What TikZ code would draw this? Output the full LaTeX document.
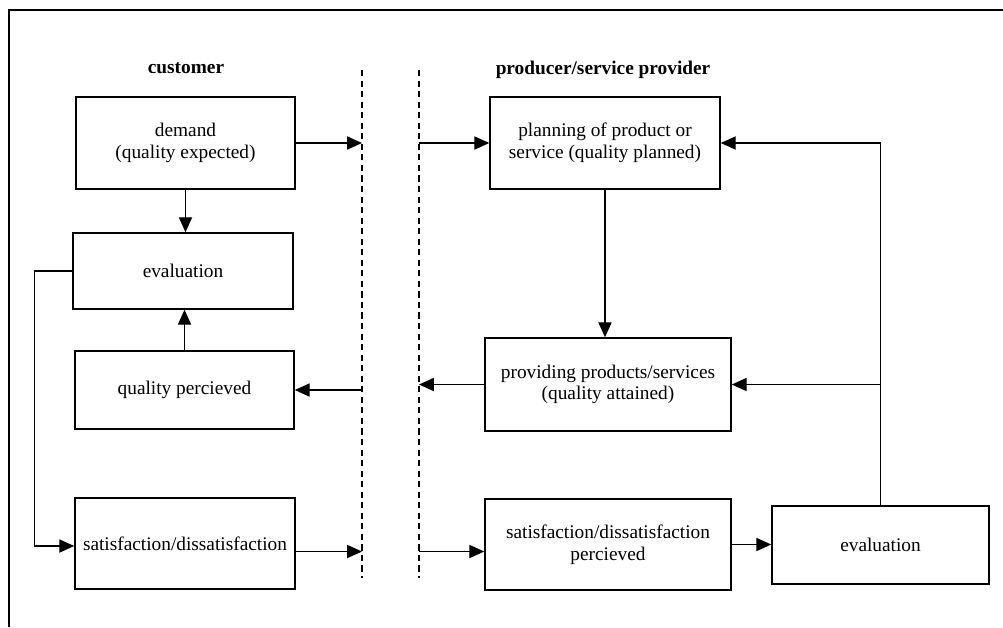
\documentclass[tikz,border=0pt]{standalone}
\usepackage{fontspec}
\setmainfont{Liberation Serif}
\usetikzlibrary{arrows.meta}

\begin{document}
\begin{tikzpicture}[x=0.02cm, y=-0.02cm,
  box/.style={draw, line width=0.9pt, align=center, inner sep=2pt,
    font=\fontsize{11}{12.3}\selectfont},
  lbl/.style={font=\fontsize{11}{12.3}\selectfont\bfseries},
  arr/.style={line width=0.75pt, -{Triangle[length=8.5pt,width=7.5pt]}},
  sep/.style={line width=0.8pt, dash pattern=on 3.5pt off 2.5pt}]
\useasboundingbox (0,0) rectangle (1003,627);
\draw[line width=0.6pt] (9,627) -- (9,10) -- (1003,10);

\node[lbl] (cust) at (186,68) {customer};
\node[lbl] (prod) at (603,70) {producer/service provider};

\coordinate (d1top) at (362,70);
\coordinate (d1bot) at (362,578);
\coordinate (d2top) at (419,70);
\coordinate (d2bot) at (419,578);
\draw[sep] (d1top) -- (d1bot);
\draw[sep] (d2top) -- (d2bot);

\node[box, minimum width=4.38cm, minimum height=1.84cm] (demand) at (185.5,143) {demand\\(quality expected)};
\node[box, minimum width=4.4cm, minimum height=1.52cm] (evalL) at (183,271) {evaluation};
\node[box, minimum width=4.38cm, minimum height=1.56cm] (percL) at (184.5,390) {quality percieved};
\node[box, minimum width=4.4cm, minimum height=1.82cm] (satL) at (185,543.5) {satisfaction/dissatisfaction};
\node[box, minimum width=4.6cm, minimum height=1.84cm] (plan) at (605,143) {planning of product or\\service (quality planned)};
\node[box, minimum width=4.92cm, minimum height=1.86cm] (prov) at (608,384.5) {providing products/services\\(quality attained)};
\node[box, minimum width=4.92cm, minimum height=1.82cm] (satR) at (608,544.5) {satisfaction/dissatisfaction\\percieved};
\node[box, minimum width=4.34cm, minimum height=1.56cm] (evalR) at (880.5,545) {evaluation};

% customer side
\draw[arr] (demand.south) -- (demand.south |- evalL.north);
\draw[arr] (percL.north) -- (percL.north |- evalL.south);
\draw[arr] (evalL.west) -- ++(-38,0) |- ([yshift=-0.05cm]satL.west);

% across the border
\draw[arr] (demand.east) -- (demand.east -| d1top);
\draw[arr] (demand.east -| d2top) -- (plan.west);
\draw[arr] (prov.west) -- (prov.west -| d2top);
\draw[arr] (percL.east -| d1top) -- (percL.east);
\draw[arr] ([yshift=-0.16cm]satL.east) -- ([yshift=-0.16cm]satL.east -| d1top);
\draw[arr] ([yshift=-0.16cm]satL.east -| d2top) -- ([yshift=-0.16cm]satL.east -| satR.west);

% producer side
\draw[arr] (plan.south) -- (plan.south |- prov.north);
\draw[arr] (satR.east) -- (satR.east -| evalR.west);
\draw[arr] (evalR.north) |- (plan.east);
\draw[arr] (evalR.north |- prov.east) -- (prov.east);
\end{tikzpicture}
\end{document}
